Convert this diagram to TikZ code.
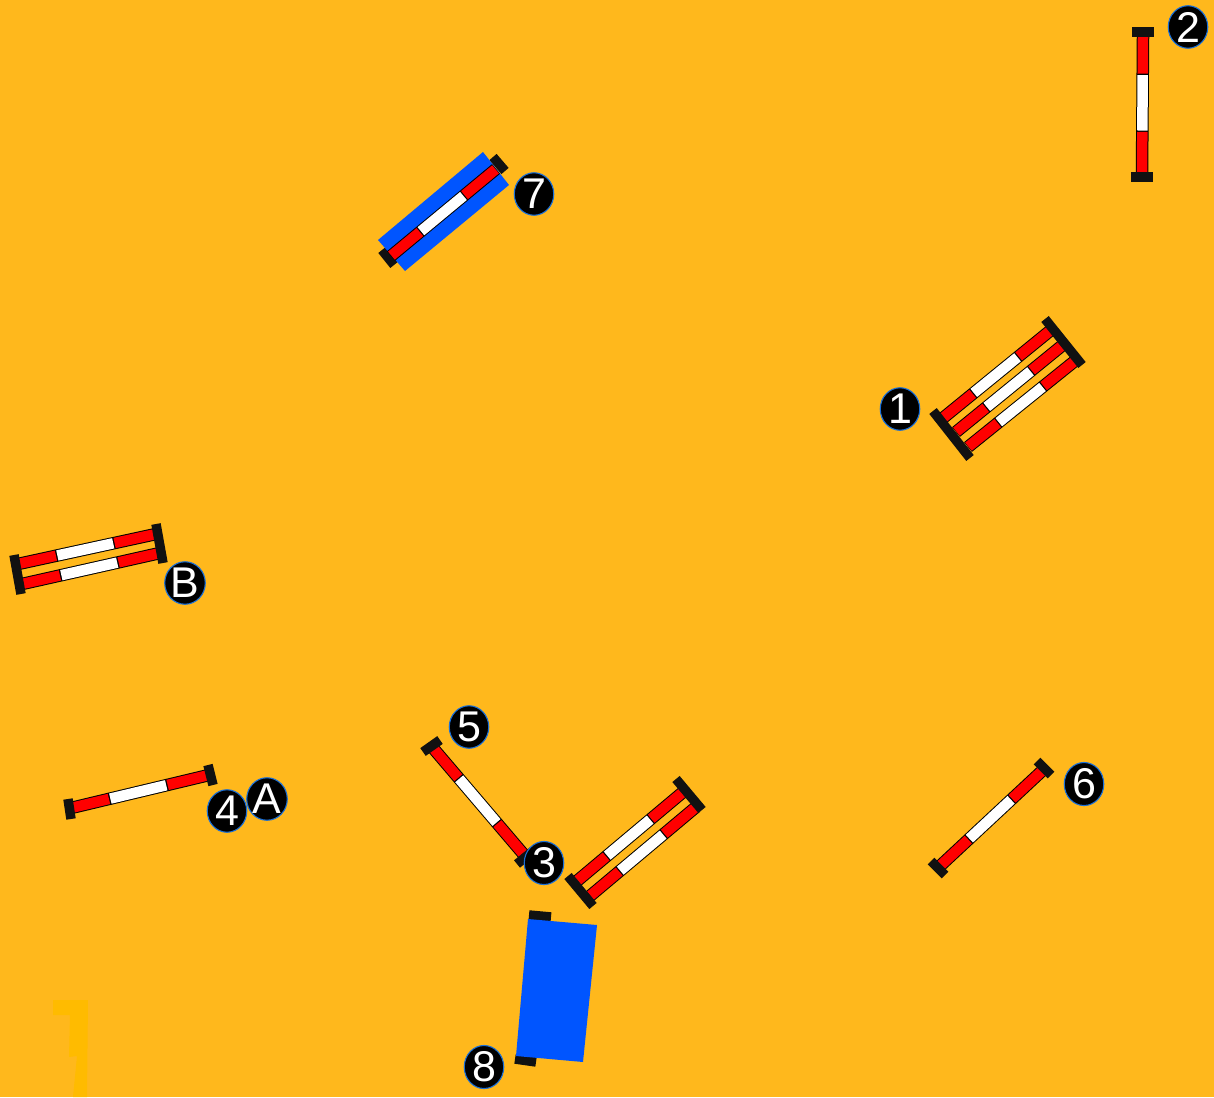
\documentclass[tikz,border=0pt]{standalone}
\usepackage{fontspec}
\setmainfont{Liberation Sans}
\usetikzlibrary{calc,shapes.geometric}
\definecolor{ground}{HTML}{FFB81C}
\definecolor{ghost}{HTML}{FFBB00}
\definecolor{mat}{HTML}{0055FF}
\definecolor{rim}{HTML}{1A6FD8}
\definecolor{barblack}{HTML}{111111}
\definecolor{polered}{HTML}{FF0000}
\tikzset{
  x=1pt,y=-1pt,
  standbar/.style={draw=barblack,line width=9.5pt,line cap=butt},
  poleedge/.style={draw=black,line width=12.5pt},
  polefill/.style={line width=10.5pt},
  matshape/.style={fill=mat,draw=none},
  badge/.style={ellipse,fill=black,draw=rim,line width=1.1pt,minimum width=39.5pt,minimum height=42.5pt,inner sep=0pt,
    text=white,font=\fontsize{43}{43}\selectfont},
}
\newcommand{\stand}[4]{\draw[standbar] (#1,#2) -- (#3,#4);}
\newcommand{\pole}[4]{%
  \coordinate (pa) at (#1,#2);
  \coordinate (pb) at (#3,#4);
  \draw[poleedge] (pa) -- (pb);
  \draw[polefill,draw=polered] ($(pa)!.004!(pb)$) -- ($(pa)!.275!(pb)$);
  \draw[polefill,draw=white] ($(pa)!.285!(pb)$) -- ($(pa)!.69!(pb)$);
  \draw[polefill,draw=polered] ($(pa)!.70!(pb)$) -- ($(pa)!.996!(pb)$);
}
\begin{document}
\begin{tikzpicture}
\useasboundingbox (0,0) rectangle (1214,1097);
\fill[ground] (0,0) rectangle (1214,1097);
\fill[ghost] (53,1000) -- (88,1000) -- (87,1097) -- (73,1097) -- (77,1056) -- (69,1057) -- (70,1015) -- (53,1015) -- cycle;

% jump 2
\pole{1143}{36}{1142}{173}
\stand{1132}{32}{1154}{32}
\stand{1131}{177}{1153}{177}

% jump 7
\stand{493}{157}{505}{171}
\stand{382}{250}{394}{265}
\fill[matshape] (483,152) -- (509,185) -- (405,271) -- (378,240) -- cycle;
\pole{391}{256}{496}{169}

% jump 1
\pole{943}{418}{1051}{330}
\pole{956}{432}{1064}{344}
\pole{968}{447}{1076}{360}
\stand{1045}{319}{1082}{365}
\stand{933}{411}{970}{458}

% jump 3
\pole{577}{881}{683}{792}
\pole{590}{896}{696}{807}
\stand{676}{779}{702}{810}
\stand{568}{876}{593}{906}

% jump 5
\pole{433}{748}{525}{856}
\stand{423}{752}{440}{740}
\stand{517}{864}{533}{851}

% jump 6
\pole{940}{866}{1043}{770}
\stand{1037}{761}{1051}{775}
\stand{931}{861}{945}{875}

% jump B
\pole{18}{564}{156}{534}
\pole{22}{584}{160}{553}
\stand{14}{555}{21}{594}
\stand{156}{524}{163}{563}

% jump 4
\pole{71}{808}{209}{775}
\stand{68}{799}{71}{819}
\stand{208}{765}{213}{785}

% jump 8
\stand{529}{915}{551}{917}
\stand{515}{1059}{536}{1062}
\fill[matshape] (528,919) -- (597,925) -- (583,1062) -- (516,1056) -- cycle;

% numbers
\node[badge] (n2) at (1188,27) {2};
\node[badge] (n7) at (534,194) {7};
\node[badge] (n1) at (900,409) {1};
\node[badge] (nB) at (185,583) {B};
\node[badge] (n5) at (469,727) {5};
\node[badge] (n3) at (544,863) {3};
\node[badge] (nA) at (267,799) {A};
\node[badge] (n4) at (227,811) {4};
\node[badge] (n6) at (1084,784) {6};
\node[badge] (n8) at (484,1067) {8};
\end{tikzpicture}
\end{document}
